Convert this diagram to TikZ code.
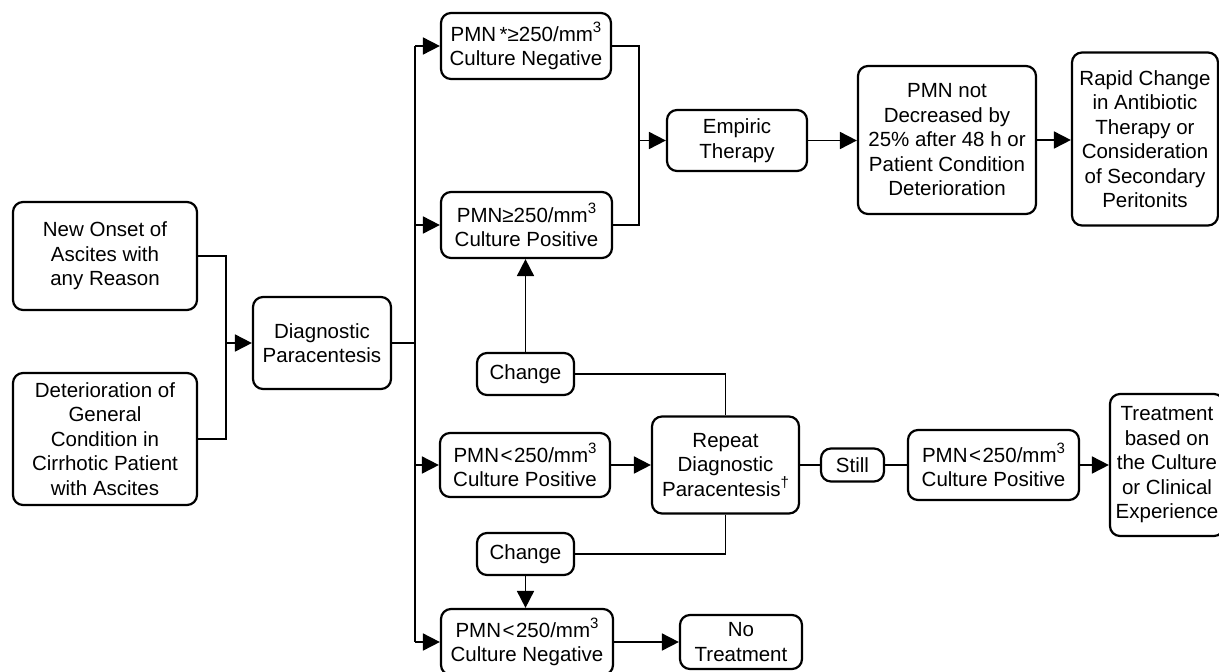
\documentclass[tikz,border=0pt]{standalone}
\usepackage{fontspec}
\setmainfont{Liberation Sans}
\usetikzlibrary{arrows.meta}
\newcommand{\supth}[1]{\raisebox{0.42em}{\fontsize{15}{15}\selectfont #1}}
\newcommand{\lessth}{\kern1.5pt<\kern1.5pt}
\begin{document}
\begin{tikzpicture}[x=1pt,y=-1pt,
  box/.style={draw, line width=2.2pt, rounded corners=10pt, inner sep=0pt, align=center,
    font=\fontsize{20.5}{24.5}\selectfont},
  conn/.style={line width=1.8pt},
  arr/.style={conn, -{Triangle[length=17pt,width=17pt]}}]
\useasboundingbox (0,0) rectangle (1219,672);
% nodes
\node[box, minimum width=184pt, minimum height=108pt] (A) at (105,256) {New Onset of\\Ascites with\\any Reason};
\node[box, minimum width=184pt, minimum height=132pt] (B) at (105,439) {Deterioration of\\General\\Condition in\\Cirrhotic Patient\\with Ascites};
\node[box, minimum width=138pt, minimum height=92pt] (D) at (322,343) {Diagnostic\\Paracentesis};
\node[box, minimum width=170pt, minimum height=66pt] (N1) at (526,46) {PMN\,*≥250/mm\supth{3}\\Culture Negative};
\node[box, minimum width=171pt, minimum height=66pt] (P1) at (526.5,225) {PMN≥250/mm\supth{3}\\Culture Positive};
\node[box, minimum width=140pt, minimum height=61pt] (E) at (737,140.5) {Empiric\\Therapy};
\node[box, minimum width=178pt, minimum height=148pt] (M) at (947,140) {PMN not\\Decreased by\\25\% after 48 h or\\Patient Condition\\Deterioration};
\node[box, minimum width=146pt, minimum height=173pt] (R) at (1145,139) {Rapid Change\\in Antibiotic\\Therapy or\\Consideration\\of Secondary\\Peritonits};
\node[box, minimum width=97pt, minimum height=42pt] (C1) at (525.5,374) {Change};
\node[box, minimum width=170pt, minimum height=64pt] (P2) at (525,465) {PMN\lessth250/mm\supth{3}\\Culture Positive};
\node[box, minimum width=147pt, minimum height=97pt] (RP) at (725.5,465) {Repeat\\Diagnostic\\Paracentesis\supth{†}};
\node[box, minimum width=97pt, minimum height=42pt] (C2) at (525.5,554) {Change};
\node[box, minimum width=172pt, minimum height=66pt] (N2) at (527,642) {PMN\lessth250/mm\supth{3}\\Culture Negative};
\node[box, minimum width=122pt, minimum height=54pt] (NT) at (741,642) {No\\Treatment};
\node[box, minimum width=63pt, minimum height=33pt] (S) at (852.5,465) {Still};
\node[box, minimum width=171pt, minimum height=70pt] (P3) at (993.5,465) {PMN\lessth250/mm\supth{3}\\Culture Positive};
\node[box, minimum width=114pt, minimum height=142pt] (T) at (1167,465) {Treatment\\based on\\the Culture\\or Clinical\\Experience};
% connectors
\coordinate (j1) at (226,343);
\draw[conn] (A.east) -| (j1);
\draw[conn] (B.east) -| (j1);
\draw[arr] (j1) -- (D.west);
\coordinate (tr) at (415,343);
\draw[conn] (D.east) -- (tr);
\draw[conn] (tr |- N1.west) -- (tr |- N2.west);
\draw[arr] (tr |- N1.west) -- (N1.west);
\draw[arr] (tr |- P1.west) -- (P1.west);
\draw[arr] (tr |- P2.west) -- (P2.west);
\draw[arr] (tr |- N2.west) -- (N2.west);
\coordinate (j2) at (639,140.5);
\draw[conn] (N1.east) -| (j2);
\draw[conn] (P1.east) -| (j2);
\draw[arr] (j2) -- (E.west);
\draw[arr] (E.east) -- (E.east -| M.west);
\draw[arr] (M.east) -- (M.east -| R.west);
\draw[arr] (C1.north) -- (C1.north |- P1.south);
\draw[conn] (C1.east) -| (RP.north);
\draw[arr] (P2.east) -- (RP.west);
\draw[conn] (RP.south) |- (C2.east);
\draw[arr] (C2.south) -- (C2.south |- N2.north);
\draw[arr] (N2.east) -- (NT.west);
\draw[conn] (RP.east) -- (S.west);
\draw[conn] (S.east) -- (P3.west);
\draw[arr] (P3.east) -- (T.west);
\end{tikzpicture}
\end{document}
